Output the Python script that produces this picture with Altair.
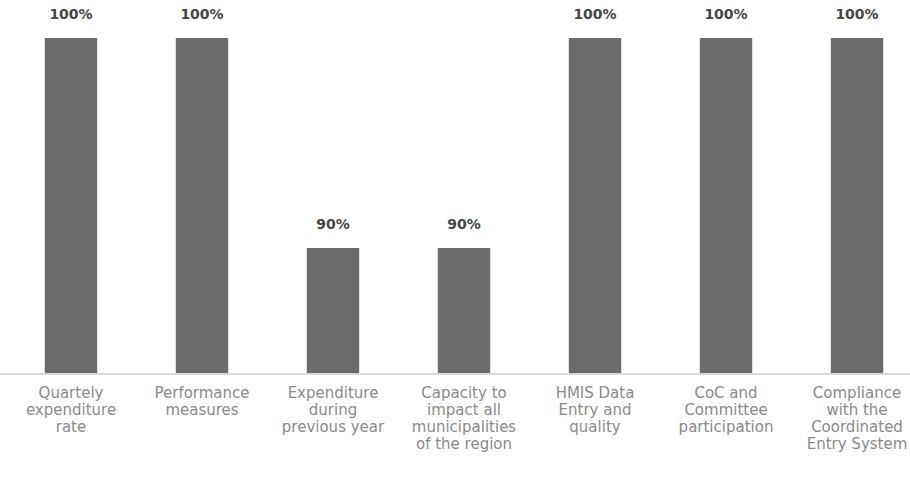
import altair as alt
import pandas as pd

categories = [
    "Quartely\nexpenditure\nrate",
    "Performance\nmeasures",
    "Expenditure\nduring\nprevious year",
    "Capacity to\nimpact all\nmunicipalities\nof the region",
    "HMIS Data\nEntry and\nquality",
    "CoC and\nCommittee\nparticipation",
    "Compliance\nwith the\nCoordinated\nEntry System",
]
values = [100, 100, 90, 90, 100, 100, 100]
labels = ["100%", "100%", "90%", "90%", "100%", "100%", "100%"]

df = pd.DataFrame({"cat": categories, "val": values, "lab": labels})

FONT = "DejaVu Sans"

x = alt.X(
    "cat:N",
    sort=categories,
    title=None,
    scale=alt.Scale(range=[5.5, 922.5], paddingInner=0.6, paddingOuter=0.3),
    axis=alt.Axis(
        labelAngle=0,
        labelExpr="split(datum.label, '\\n')",
        labelFont=FONT,
        labelFontSize=15,
        labelColor="#8a8a8a",
        labelLineHeight=17,
        labelPadding=11,
        ticks=False,
        domain=False,
        labelBaseline="top",
        labelOverlap=False,
        labelBound=False,
        labelFlush=False,
    ),
)
y = alt.Y(
    "val:Q",
    scale=alt.Scale(domain=[84, 100], nice=False, zero=False, clamp=True),
    axis=None,
)

bars = alt.Chart(df).mark_bar(color="#6b6b6b", clip=True).encode(x=x, y=y)
text = alt.Chart(df).mark_text(
    baseline="bottom", dy=-16, font=FONT, fontSize=14, fontWeight="bold", color="#454545"
).encode(x=x, y=y, text="lab:N")
base = alt.Chart(df).mark_rule(color="#d9d9d9", strokeWidth=1).encode(
    x=alt.value(0), x2=alt.value(910), y=alt.value(336)
)

chart = (
    alt.layer(bars, base, text)
    .properties(
        width=910,
        height=336,
        padding={"left": 0, "top": 38, "right": 0, "bottom": 103},
        autosize=alt.AutoSizeParams(type="none"),
    )
    .configure_view(stroke=None)
)

chart.save("out.html", embed_options={"renderer": "svg", "actions": False})
